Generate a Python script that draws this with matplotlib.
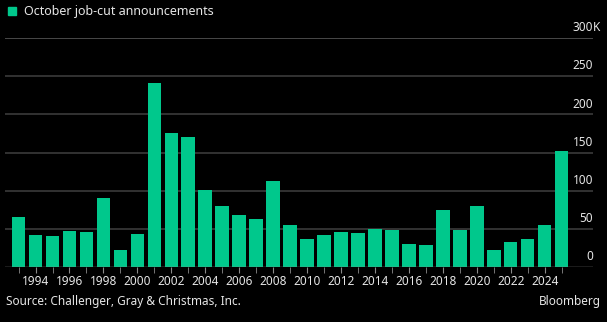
import matplotlib.pyplot as plt

# Datos: anuncios de recortes de empleo en octubre (miles)
years = list(range(1993, 2026))
job_cuts = [66, 41.5, 40.6, 47, 46.3, 90.8, 22.3, 43.2, 241, 175, 170.7, 101.3, 80.3,
            68.6, 62.4, 112.2, 55, 37, 41.7, 46.5, 44.8, 50, 49.1, 30, 29.1, 74.3,
            49.1, 79.6, 22.2, 33, 36.1, 54.8, 151.7]
y_ticks = [0, 50, 100, 150, 200, 250, 300]
y_labels = ['0', '50', '100', '150', '200', '250', '300']
x_ticks = list(range(1994, 2025, 2))

verde = '#00c88c'
texto = '#e6e6e6'
plt.rcParams['font.family'] = ['Noto Sans', 'DejaVu Sans']

fig = plt.figure(figsize=(6.07, 3.22), dpi=100, facecolor='black')
ax = fig.add_axes([5 / 607, 1 - 267 / 322, 588 / 607, (267 - 38) / 322])
ax.set_facecolor('black')

ax.bar(years, job_cuts, width=0.8, color=verde, zorder=3)
ax.set_xlim(1992.2, 2026.85)
ax.set_ylim(0, 300)

# Líneas de la cuadrícula y etiquetas del eje Y sobre ellas
for v, lab in zip(y_ticks, y_labels):
    if v == 300:
        ax.axhline(v, color='#555555', lw=1.2, zorder=1)
    elif v > 0:
        ax.axhline(v, color='#3a3a3a', lw=1.2, zorder=1)
    ax.text(1, v + 5, lab, transform=ax.get_yaxis_transform(), ha='right', va='bottom',
            color=texto, fontsize=8.5)
ax.text(1, 305, 'K', transform=ax.get_yaxis_transform(), ha='left', va='bottom',
        color=texto, fontsize=8.5)
ax.axhline(0, color='#8a8a8a', lw=1, zorder=4)

ax.set_yticks([])
ax.set_xticks(years, minor=True)
ax.set_xticks(x_ticks)
ax.set_xticklabels([str(y) for y in x_ticks], color=texto, fontsize=8.5)
ax.tick_params(axis='x', which='both', length=4, color='#8a8a8a', pad=2)
for s in ax.spines.values():
    s.set_visible(False)

# Leyenda y textos
fig.patches.append(plt.Rectangle((8 / 607, 1 - 15 / 322), 8 / 607, 8 / 322,
                                 transform=fig.transFigure, color=verde))
fig.text(24 / 607, 1 - 11 / 322, 'October job-cut announcements', color=texto,
         fontsize=9, va='center')
fig.text(6 / 607, 1 - 302 / 322, 'Source: Challenger, Gray & Christmas, Inc.',
         color=texto, fontsize=8.5, va='center')
fig.text(601 / 607, 1 - 302 / 322, 'Bloomberg', color=texto, fontsize=8.5,
         va='center', ha='right', fontweight='bold')

fig.savefig('out.png', dpi=100, facecolor='black')
